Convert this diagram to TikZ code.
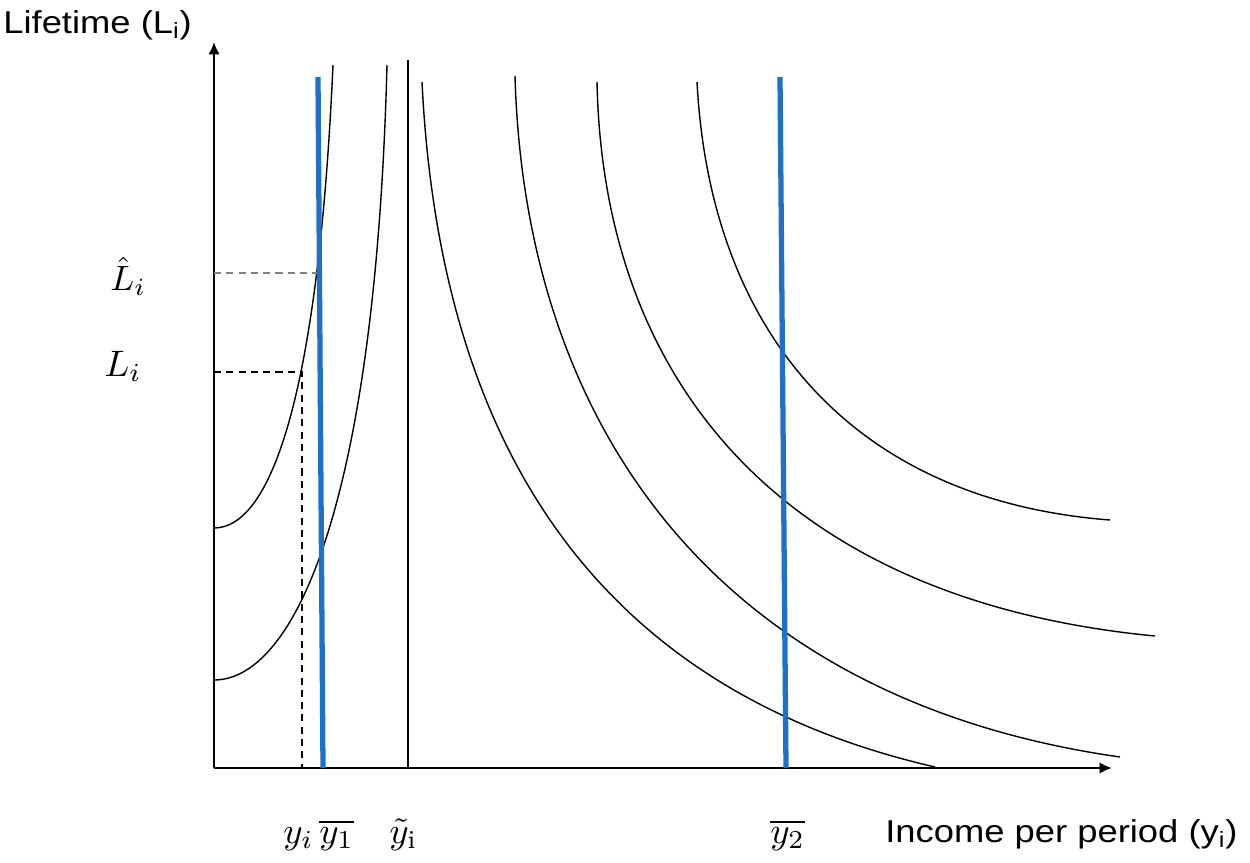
\documentclass[tikz,border=0pt]{standalone}
\usepackage{fontspec}
\newfontfamily\labelfont[FakeStretch=1.15]{Liberation Sans}
\usetikzlibrary{arrows.meta}
\definecolor{lineblue}{RGB}{30,112,200}
\newcommand{\bigmath}[2][2.1]{\scalebox{#1}{$#2$}}
\begin{document}
\begin{tikzpicture}[x=0.02cm,y=-0.02cm,
  axis/.style={line width=1.3pt,-{Latex[length=7pt,width=6.5pt]}},
  curve/.style={line width=0.8pt},
  bluebar/.style={line width=3pt,lineblue},
  guide/.style={line width=0.9pt,dash pattern=on 4pt off 3pt},
  axlabel/.style={inner sep=0pt,anchor=base west,font=\labelfont\fontsize{18}{20}\selectfont},
  mathlabel/.style={inner sep=0pt,anchor=base west}]
\useasboundingbox (0,0) rectangle (1250,862);

% axes
\coordinate (O) at (214,768);
\coordinate (ytop) at (214,42);
\coordinate (xend) at (1112,768);
\draw[axis] (O) -- (ytop);
\draw[axis] (O) -- (xend);

% rising curves
\coordinate (A0) at (214,528); \coordinate (A1) at (333,65);
\coordinate (B0) at (214,680); \coordinate (B1) at (387,65);
\draw[curve] (A0) .. controls (270,528) and (318,400) .. (A1);
\draw[curve] (B0) .. controls (290,680) and (375,520) .. (B1);

% vertical line at y tilde
\coordinate (T0) at (408,60); \coordinate (T1) at (408,768);
\draw[line width=1pt] (T0) -- (T1);

% falling curves
\coordinate (C0) at (422,82);  \coordinate (C1) at (935,767);
\coordinate (D0) at (515,76);  \coordinate (D1) at (1120,757);
\coordinate (E0) at (597,82);  \coordinate (E1) at (1155,636);
\coordinate (F0) at (697,82);  \coordinate (F1) at (1110,520);
\draw[curve] (C0) .. controls (440,450) and (600,690) .. (C1);
\draw[curve] (D0) .. controls (525,430) and (720,700) .. (D1);
\draw[curve] (E0) .. controls (603,380) and (780,600) .. (E1);
\draw[curve] (F0) .. controls (710,330) and (850,500) .. (F1);

% dashed guides
\coordinate (Lh0) at (214,273); \coordinate (Lh1) at (320,273);
\coordinate (L0) at (214,372);  \coordinate (L1) at (302,372);
\coordinate (Y1) at (302,768);
\draw[guide,gray] (Lh0) -- (Lh1);
\draw[guide] (L0) -- (L1) -- (Y1);

% blue lines
\coordinate (P0) at (318,77); \coordinate (P1) at (323,768);
\coordinate (Q0) at (780,77); \coordinate (Q1) at (786,768);
\draw[bluebar] (P0) -- (P1);
\draw[bluebar] (Q0) -- (Q1);

% labels
\node[axlabel] (lifetime) at (3,33) {Lifetime (L\textsubscript{i})};
\node[axlabel] (income) at (885,842) {Income per period (y\textsubscript{i})};
\node[mathlabel] (Lhat) at (110,290) {\bigmath[2.0]{\hat{L}_i}};
\node[mathlabel] (Li) at (104,376) {\bigmath{L_i}};
\node[mathlabel] (yi) at (283,843) {\bigmath{y_i}};
\node[mathlabel] (ybar1) at (319,843) {\bigmath{\overline{y_1}}};
\node[mathlabel] (ytil) at (389,843) {\bigmath{\tilde{y}_\mathrm{i}}};
\node[mathlabel] (ybar2) at (770,843) {\bigmath{\overline{y_2}}};
\end{tikzpicture}
\end{document}
